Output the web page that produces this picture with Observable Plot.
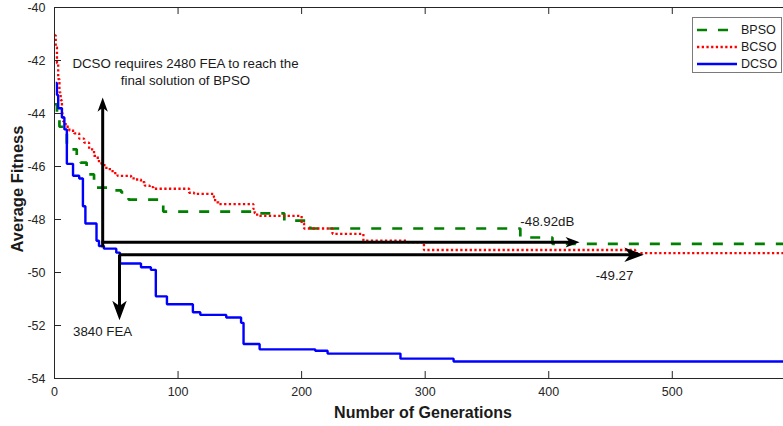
<!DOCTYPE html>
<html><head><meta charset="utf-8">
<script src="https://cdn.jsdelivr.net/npm/d3@7"></script>
<script src="https://cdn.jsdelivr.net/npm/@observablehq/plot@0.6"></script>
<style>
body{margin:0;background:#fff;}
#wrap{position:relative;width:783px;height:426px;overflow:hidden;font-family:"Liberation Sans",Arial,sans-serif;}
#legend{position:absolute;left:692px;top:17px;width:90px;height:56px;box-sizing:border-box;border:1px solid #7a7a7a;background:#fff;}
.row{position:absolute;left:4px;height:16px;display:flex;align-items:center;font-size:12.5px;color:#1a1a1a;}
.row svg{margin-right:4px;}
</style></head><body><div id="wrap"></div>
<script>
// ---- data ----
const xTicks = [0, 100, 200, 300, 400, 500];
const yTicks = [-54, -52, -50, -48, -46, -44, -42, -40];
const seriesNames = ["BPSO", "BCSO", "DCSO"];

const bpsoGen = [0, 2, 4, 7, 10, 18, 21, 26, 32, 46, 54, 60, 88, 163, 186, 207, 377, 403, 590];
const bpsoVal = [-43.65, -43.95, -44.5, -44.65, -45.35, -45.65, -45.85, -46.3, -46.8, -46.9, -46.98, -47.25, -47.7, -47.77, -48.04, -48.34, -48.68, -48.92, -48.92];

const bcsoGen = [0, 1, 2, 3, 4, 5, 6, 7, 9, 12, 16, 20, 24, 28, 32, 35, 38, 42, 47, 51, 62, 64, 70, 73, 77, 80, 109, 113, 129, 130, 133, 161, 162, 164, 200, 202, 225, 250, 286, 299, 470, 590];
const bcsoVal = [-41.05, -41.5, -42.1, -42.7, -43.2, -43.5, -44.0, -44.3, -44.5, -44.65, -44.75, -44.95, -45.1, -45.35, -45.6, -45.8, -45.95, -46.1, -46.25, -46.35, -46.4, -46.49, -46.59, -46.72, -46.78, -46.84, -46.99, -47.03, -47.16, -47.35, -47.42, -47.6, -47.76, -47.86, -48.14, -48.34, -48.54, -48.8, -48.85, -49.15, -49.27, -49.27];

const dcsoGen = [1, 2, 3, 6, 8, 10, 15, 20, 23, 25, 34, 36, 40, 50, 53, 70, 78, 82, 91, 112, 118, 139, 151, 153, 166, 211, 221, 280, 323, 590];
const dcsoVal = [-42.85, -43.3, -43.8, -44.15, -44.6, -45.9, -46.35, -46.45, -47.5, -48.15, -48.8, -49.0, -49.1, -49.25, -49.66, -49.8, -49.9, -50.9, -51.2, -51.5, -51.6, -51.7, -51.9, -52.7, -52.9, -52.95, -53.06, -53.25, -53.36, -53.36];

// annotation arrows (generation / fitness)
const arrowGroup = ["2480", "2480", "3840", "3840"];
const arrowX1 = [39, 38, 52, 52.6];
const arrowY1 = [-49.05, -48.86, -49.33, -49.33];
const arrowX2 = [39, 425, 477, 52.6];
const arrowY2 = [-43.4, -48.86, -49.33, -51.8];

// annotation texts
const noteText = ["DCSO requires 2480 FEA to reach the\nfinal solution of BPSO", "-48.92dB", "-49.27", "3840 FEA"];
const noteX = [106, 377, 438, 15];
const noteY = [-42.4, -48.02, -50.06, -52.19];
const noteAnchor = ["middle", "start", "start", "start"];

// ---- build ----
const W = 783, H = 426, mL = 54, mR = 0, mT = 7, mB = 48;
const plotW = W - mL - mR, plotH = H - mT - mB;
const colors = {BPSO: "#008000", BCSO: "#ff0000", DCSO: "#0000ff"};
const dashes = {BPSO: "10,11", BCSO: "2.3,2.4", DCSO: null};
const widths = {BPSO: 2.7, BCSO: 2.3, DCSO: 2.4};
const rows = (g, v, name) => g.map((x, i) => ({gen: x, val: v[i], name}));
const data = {BPSO: rows(bpsoGen, bpsoVal, "BPSO"), BCSO: rows(bcsoGen, bcsoVal, "BCSO"), DCSO: rows(dcsoGen, dcsoVal, "DCSO")};
const arrows = arrowGroup.map((g, i) => ({g, x1: arrowX1[i], y1: arrowY1[i], x2: arrowX2[i], y2: arrowY2[i],
  rot: arrowY2[i] > arrowY1[i] ? 0 : arrowY2[i] < arrowY1[i] ? 180 : 90}));
const notes = noteText.map((t, i) => ({t, x: noteX[i], y: noteY[i], a: noteAnchor[i]}));

const headShape = (lenK, widK) => ({
  draw(ctx, size) {
    const r = Math.sqrt(size / Math.PI);
    const L = lenK * r, w = widK * r;
    ctx.moveTo(0, 0);
    ctx.lineTo(-w / 2, L);
    ctx.lineTo(0, L * 0.72);
    ctx.lineTo(w / 2, L);
    ctx.closePath();
  }
});
const head = headShape(2.3, 1.7);
const headR = {"2480": 6.1, "3840": 8.5};
const font = "Liberation Sans, Arial, sans-serif";
const axisColor = "#262626";

const seriesMarks = seriesNames.map(n => Plot.line(data[n], {x: "gen", y: "val", curve: "step-after",
  stroke: colors[n], strokeWidth: widths[n], strokeDasharray: dashes[n], strokeLinecap: "butt", strokeLinejoin: "miter"}));

const arrowMarks = Object.keys(headR).flatMap(g => {
  const a = arrows.filter(d => d.g === g);
  return [
    Plot.arrow(a, {x1: "x1", y1: "y1", x2: "x2", y2: "y2", headLength: 0, insetEnd: headR[g] * 1.2,
      stroke: "black", strokeWidth: 3, strokeLinecap: "butt"}),
    Plot.dot(a, {x: "x2", y: "y2", symbol: head, r: headR[g], fill: "black", stroke: "none", rotate: "rot"})
  ];
});

const noteMarks = ["middle", "start"].map(anchor => Plot.text(notes.filter(d => d.a === anchor),
  {x: "x", y: "y", text: "t", textAnchor: anchor, fontSize: 13.3, fill: "#1a1a1a", lineHeight: 1.3}));

const chart = Plot.plot({
  width: W, height: H, marginLeft: mL, marginRight: mR, marginTop: mT, marginBottom: mB,
  style: {fontFamily: font, fontSize: "12.5px", color: axisColor, background: "white", overflow: "visible"},
  x: {domain: [0, 590]},
  y: {domain: [-54, -40]},
  marks: [
    Plot.axisX({ticks: xTicks, tickSize: 0, tickPadding: 9, label: null, tickFormat: d => String(d)}),
    Plot.axisY({ticks: yTicks, tickSize: 0, tickPadding: 9, label: null, tickFormat: d => String(d)}),
    Plot.tickX(xTicks, {x: d => d, insetTop: plotH - 7, stroke: axisColor}),
    Plot.tickX(xTicks, {x: d => d, insetBottom: plotH - 7, stroke: axisColor}),
    Plot.tickY(yTicks, {y: d => d, insetRight: plotW - 7, stroke: axisColor}),
    ...seriesMarks,
    ...arrowMarks,
    Plot.ruleY([-54, -40], {stroke: axisColor, strokeWidth: 1}),
    Plot.ruleX([0], {stroke: axisColor, strokeWidth: 1}),
    ...noteMarks,
    Plot.text(["Number of Generations"], {frameAnchor: "bottom", lineAnchor: "middle", textAnchor: "middle", dx: 4, dy: 34, fontSize: 16, fontWeight: "bold", fill: "#1a1a1a"}),
    Plot.text(["Average Fitness"], {frameAnchor: "left", lineAnchor: "middle", textAnchor: "middle", rotate: -90, dx: -37, dy: -4, fontSize: 16.5, fontWeight: "bold", fill: "#1a1a1a"})
  ]
});

const wrap = document.getElementById("wrap");
wrap.appendChild(chart);

// legend
const legend = document.createElement("div");
legend.id = "legend";
seriesNames.forEach((n, i) => {
  const row = document.createElement("div");
  row.className = "row";
  row.style.top = (4 + i * 17) + "px";
  row.innerHTML = `<svg width="40" height="8"><line x1="0" y1="4" x2="40" y2="4" stroke="${colors[n]}" stroke-width="${widths[n]}" ${dashes[n] ? `stroke-dasharray="${dashes[n]}"` : ""}/></svg><span>${n}</span>`;
  legend.appendChild(row);
});
wrap.appendChild(legend);
</script></body></html>
